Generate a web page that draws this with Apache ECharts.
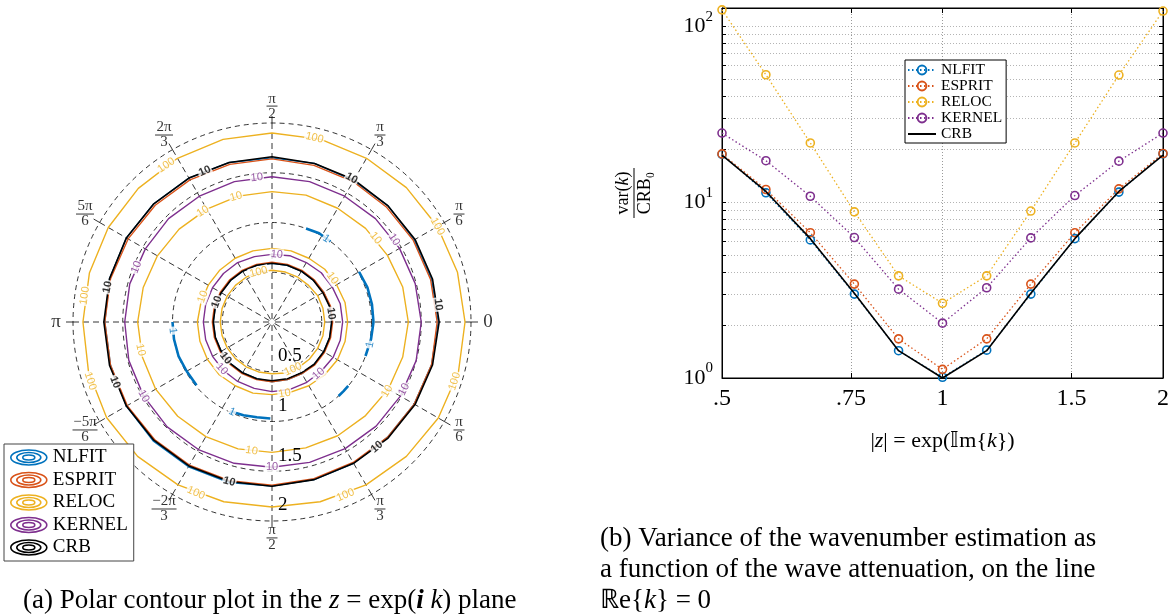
<!DOCTYPE html>
<html>
<head>
<meta charset="utf-8">
<script src="https://cdn.jsdelivr.net/npm/echarts@6/dist/echarts.min.js"></script>
<style>
html, body { margin: 0; padding: 0; background: #fff; }
#main { width: 1174px; height: 616px; }
</style>
</head>
<body>
<div id="main"></div>
<script>
var oChart = echarts.init(document.getElementById('main'));

// ---------- 左图: 极坐标等高线 (每15度读一个半径) ----------
var contourAngles = [0, 15, 30, 45, 60, 75, 90, 105, 120, 135, 150, 165, 180, 195, 210, 225, 240, 255, 270, 285, 300, 315, 330, 345];
var nlfitIn10   = [0.60, 0.60, 0.60, 0.59, 0.59, 0.59, 0.59, 0.59, 0.59, 0.59, 0.59, 0.59, 0.59, 0.59, 0.59, 0.59, 0.59, 0.59, 0.60, 0.60, 0.60, 0.60, 0.60, 0.60];
var nlfitOut10  = [1.67, 1.66, 1.65, 1.65, 1.64, 1.65, 1.65, 1.66, 1.67, 1.68, 1.69, 1.69, 1.68, 1.68, 1.69, 1.69, 1.68, 1.67, 1.65, 1.64, 1.64, 1.64, 1.65, 1.66];
var espritIn10  = [0.61, 0.61, 0.60, 0.60, 0.60, 0.60, 0.60, 0.60, 0.60, 0.60, 0.60, 0.60, 0.60, 0.60, 0.60, 0.60, 0.60, 0.60, 0.60, 0.60, 0.60, 0.61, 0.61, 0.61];
var espritOut10 = [1.66, 1.65, 1.64, 1.63, 1.63, 1.63, 1.64, 1.64, 1.65, 1.66, 1.67, 1.68, 1.68, 1.68, 1.68, 1.67, 1.66, 1.65, 1.64, 1.63, 1.63, 1.64, 1.65, 1.66];
var relocIn100  = [0.53, 0.53, 0.53, 0.52, 0.52, 0.52, 0.52, 0.52, 0.52, 0.52, 0.52, 0.52, 0.52, 0.52, 0.52, 0.52, 0.52, 0.52, 0.52, 0.53, 0.53, 0.53, 0.53, 0.53];
var relocIn10   = [0.76, 0.76, 0.75, 0.75, 0.74, 0.74, 0.74, 0.74, 0.74, 0.74, 0.74, 0.74, 0.75, 0.75, 0.75, 0.75, 0.74, 0.74, 0.73, 0.73, 0.74, 0.75, 0.76, 0.76];
var relocOut10  = [1.37, 1.36, 1.34, 1.33, 1.32, 1.32, 1.31, 1.31, 1.31, 1.32, 1.33, 1.34, 1.35, 1.35, 1.35, 1.34, 1.33, 1.32, 1.31, 1.31, 1.32, 1.33, 1.35, 1.36];
var relocOut100 = [1.94, 1.93, 1.92, 1.91, 1.90, 1.90, 1.90, 1.90, 1.90, 1.90, 1.90, 1.90, 1.90, 1.91, 1.92, 1.91, 1.89, 1.87, 1.86, 1.87, 1.89, 1.91, 1.93, 1.94];
var kernelIn10  = [0.71, 0.71, 0.70, 0.70, 0.69, 0.69, 0.68, 0.68, 0.69, 0.69, 0.69, 0.69, 0.69, 0.69, 0.69, 0.69, 0.69, 0.69, 0.70, 0.70, 0.70, 0.70, 0.71, 0.71];
var kernelOut10 = [1.50, 1.49, 1.48, 1.47, 1.46, 1.46, 1.46, 1.46, 1.46, 1.47, 1.47, 1.48, 1.48, 1.49, 1.49, 1.49, 1.48, 1.47, 1.46, 1.46, 1.47, 1.48, 1.49, 1.50];
var crbIn10     = [0.60, 0.60, 0.59, 0.59, 0.59, 0.59, 0.59, 0.59, 0.59, 0.59, 0.59, 0.59, 0.59, 0.59, 0.59, 0.59, 0.59, 0.59, 0.59, 0.59, 0.59, 0.60, 0.60, 0.60];
var crbOut10    = [1.68, 1.67, 1.66, 1.65, 1.65, 1.65, 1.66, 1.66, 1.67, 1.68, 1.69, 1.69, 1.69, 1.69, 1.69, 1.68, 1.67, 1.66, 1.65, 1.64, 1.64, 1.65, 1.66, 1.67];
// NLFIT 的 1 等值线 (几段弧)
var nlfitArcAngles = [[54, 62, 70], [30, 20, 10, 0, 350, 340], [320, 316, 312], [245, 253, 261, 269], [180, 190, 200, 210, 220]];
var nlfitArcRadii  = [[1.00, 1.01, 1.00], [1.01, 1.02, 1.02, 1.02, 1.01, 1.00], [1.00, 1.00, 1.00], [0.99, 0.98, 0.97, 0.97], [1.00, 1.00, 1.00, 0.99, 0.99]];

// 等高线标注
var relocLabelAngles = [124, 172, 198, 246, 293, 342, 30, 77, 105, 294, 106, 122, 39, 192, 329, 261, 160, 36, 280];
var relocLabelRadii  = [1.90, 1.90, 1.92, 1.88, 1.89, 1.93, 1.92, 1.90, 0.52, 0.52, 1.31, 1.31, 1.34, 1.35, 1.35, 1.31, 0.74, 0.75, 0.73];
var relocLabelTexts  = ['100', '100', '100', '100', '100', '100', '100', '100', '100', '100', '10', '10', '10', '10', '10', '10', '10', '10', '10'];
var kernelLabelAngles = [96, 34, 333, 270, 210, 158, 86, 223, 312];
var kernelLabelRadii  = [1.46, 1.48, 1.49, 1.46, 1.49, 1.47, 0.68, 0.69, 0.70];
var crbLabelAngles = [114, 61, 6, 310, 255, 201, 168, 160, 8, 218];
var crbLabelRadii  = [1.66, 1.65, 1.68, 1.64, 1.66, 1.69, 1.69, 0.59, 0.60, 0.59];
var nlfitLabelAngles = [57, 347, 185, 246];
var nlfitLabelRadii  = [1.00, 1.01, 1.00, 0.99];

// 极坐标刻度
var angleTicks = [0, 30, 60, 90, 120, 150, 180, 210, 240, 270, 300, 330];
var angleTickLabels = ['0', 'π/6', 'π/3', 'π/2', '2π/3', '5π/6', 'π', '−5π/6', '−2π/3', 'π/2', 'π/3', 'π/6'];
var radiusTicks = [0.5, 1, 1.5, 2];
var radiusTickLabels = ['0.5', '1', '1.5', '2'];

// ---------- 右图: 方差 / CRB0 ----------
var absZ      = [0.5, 0.574, 0.66, 0.758, 0.871, 1, 1.149, 1.32, 1.516, 1.741, 2];
var nlfitVar  = [18.7, 11.3, 6.1, 3.0, 1.43, 1.01, 1.44, 3.0, 6.2, 11.4, 18.8];
var espritVar = [18.8, 11.8, 6.7, 3.42, 1.67, 1.12, 1.67, 3.42, 6.7, 11.9, 18.9];
var relocVar  = [124, 53, 21.7, 8.8, 3.81, 2.66, 3.81, 8.9, 21.7, 52.8, 122];
var kernelVar = [24.7, 17.2, 10.8, 6.29, 3.2, 2.05, 3.26, 6.26, 10.9, 17.1, 24.7];
var crbVar    = [18.5, 11.5, 6.2, 3.03, 1.43, 1.0, 1.43, 3.03, 6.2, 11.5, 18.5];
var xTickValues = [0.5, 0.75, 1, 1.5, 2];
var xTickLabels = ['.5', '.75', '1', '1.5', '2'];
var yTickValues = [1, 10, 100];
var yTickExp = ['0', '1', '2'];
var yMinorTicks = [1, 2, 3, 4, 5, 6, 7, 8, 9, 10, 20, 30, 40, 50, 60, 70, 80, 90, 100];

var methodNames = ['NLFIT', 'ESPRIT', 'RELOC', 'KERNEL', 'CRB'];
var methodColors = { NLFIT: '#0072BD', ESPRIT: '#D95319', RELOC: '#EDB120', KERNEL: '#7E2F8E', CRB: '#000000' };
var serif = 'Liberation Serif';

function pairs(xs, ys) {
    var out = [];
    for (var i = 0; i < xs.length; i++) out.push([xs[i], ys[i]]);
    return out;
}

function dotLine(name, vals) {
    var c = methodColors[name];
    return {
        name: name, type: 'line', xAxisIndex: 0, yAxisIndex: 0,
        data: pairs(absZ, vals),
        symbol: 'circle', symbolSize: 8,
        lineStyle: { color: c, width: 1.3, type: [1.5, 2.5] },
        itemStyle: { color: 'rgba(255,255,255,0)', borderColor: c, borderWidth: 1.6 },
        z: 3
    };
}

function ring(name, radii, w) {
    var pts = [];
    for (var i = 0; i < contourAngles.length; i++) pts.push([radii[i], contourAngles[i]]);
    pts.push([radii[0], 360]);
    return {
        name: name, type: 'line', coordinateSystem: 'polar', polarIndex: 0,
        data: pts, symbol: 'none', silent: true,
        lineStyle: { color: methodColors[name], width: w || 1.4 }, z: 2
    };
}

function contourLabels(angles, radii, texts, color, weight) {
    var d = [];
    for (var i = 0; i < angles.length; i++) {
        var rot = angles[i] - 90;
        if (rot < -90) rot += 180;
        if (rot > 90) rot -= 180;
        d.push({ value: [radii[i], angles[i]], label: { formatter: texts[i], rotate: rot } });
    }
    return {
        type: 'scatter', coordinateSystem: 'polar', polarIndex: 0, silent: true, clip: false,
        symbol: 'circle', symbolSize: 1, itemStyle: { color: 'rgba(0,0,0,0)' },
        label: {
            show: true, position: 'inside', color: color, fontFamily: 'Liberation Sans',
            fontSize: 11, fontWeight: weight || 'normal', backgroundColor: '#fff', padding: [0, 1], lineHeight: 11
        },
        data: d, z: 4
    };
}

function fill(arr, v) {
    var o = [];
    for (var i = 0; i < arr.length; i++) o.push(v);
    return o;
}

// 角度刻度 "π/6" -> 分式
function fracText(s) {
    if (s.indexOf('/') < 0) return '{one|' + s + '}';
    var p = s.split('/');
    return '{num|' + p[0] + '}\n{bar' + Math.min(3, p[0].length) + '| }\n{num|' + p[1] + '}';
}

var series = [];
// 右图先放: 右侧图例取第一个同名系列的样式
series.push(dotLine('NLFIT', nlfitVar));
series.push(dotLine('ESPRIT', espritVar));
series.push(dotLine('RELOC', relocVar));
series.push(dotLine('KERNEL', kernelVar));
series.push({
    name: 'CRB', type: 'line', xAxisIndex: 0, yAxisIndex: 0,
    data: pairs(absZ, crbVar), symbol: 'none',
    itemStyle: { color: 'rgba(0,0,0,0)' },
    lineStyle: { color: '#000', width: 1.6 }, z: 4
});

// 左图等高线
series.push(ring('NLFIT', nlfitIn10));
series.push(ring('NLFIT', nlfitOut10));
for (var a = 0; a < nlfitArcAngles.length; a++) {
    var arc = [];
    for (var j = 0; j < nlfitArcAngles[a].length; j++) arc.push([nlfitArcRadii[a][j], nlfitArcAngles[a][j]]);
    series.push({
        name: 'NLFIT', type: 'line', coordinateSystem: 'polar', polarIndex: 0, data: arc,
        symbol: 'none', silent: true, lineStyle: { color: methodColors.NLFIT, width: 2.6 }, z: 2
    });
}
series.push(ring('ESPRIT', espritIn10));
series.push(ring('ESPRIT', espritOut10));
series.push(ring('RELOC', relocIn100));
series.push(ring('RELOC', relocIn10));
series.push(ring('RELOC', relocOut10));
series.push(ring('RELOC', relocOut100));
series.push(ring('KERNEL', kernelIn10));
series.push(ring('KERNEL', kernelOut10));
series.push(ring('CRB', crbIn10, 1.6));
series.push(ring('CRB', crbOut10, 1.6));

series.push(contourLabels(relocLabelAngles, relocLabelRadii, relocLabelTexts, methodColors.RELOC));
series.push(contourLabels(kernelLabelAngles, kernelLabelRadii, fill(kernelLabelAngles, '10'), methodColors.KERNEL));
series.push(contourLabels(crbLabelAngles, crbLabelRadii, fill(crbLabelAngles, '10'), '#000', 'bold'));
series.push(contourLabels(nlfitLabelAngles, nlfitLabelRadii, fill(nlfitLabelAngles, '1'), methodColors.NLFIT));

// 角度刻度文字
var angleLabelData = [];
for (var k = 0; k < angleTicks.length; k++) {
    angleLabelData.push({ value: [2.17, angleTicks[k]], label: { formatter: fracText(angleTickLabels[k]) } });
}
series.push({
    type: 'scatter', coordinateSystem: 'polar', polarIndex: 0, silent: true, clip: false,
    symbol: 'circle', symbolSize: 1, itemStyle: { color: 'rgba(0,0,0,0)' },
    label: {
        show: true, position: 'inside', color: '#000',
        rich: {
            num: { fontFamily: serif, fontSize: 15, lineHeight: 12, color: '#000', align: 'center' },
            bar1: { width: 11, height: 1, lineHeight: 3, fontSize: 1, backgroundColor: '#000' },
            bar2: { width: 18, height: 1, lineHeight: 3, fontSize: 1, backgroundColor: '#000' },
            bar3: { width: 25, height: 1, lineHeight: 3, fontSize: 1, backgroundColor: '#000' },
            one: { fontFamily: serif, fontSize: 19, color: '#000' }
        }
    },
    data: angleLabelData, z: 5
});

var ringIcon = 'path://M1,8a18,7.5 0 1,0 36,0a18,7.5 0 1,0 -36,0M7,8a12,5 0 1,0 24,0a12,5 0 1,0 -24,0M13,8a6,2.5 0 1,0 12,0a6,2.5 0 1,0 -12,0';
var leftLegendData = [];
for (var m = 0; m < methodNames.length; m++) {
    leftLegendData.push({
        name: methodNames[m], icon: ringIcon,
        itemStyle: { color: 'rgba(0,0,0,0)', borderColor: methodColors[methodNames[m]], borderWidth: 1.6 }
    });
}

var capFont = 27;
var option = {
    animation: false,
    backgroundColor: '#fff',
    textStyle: { fontFamily: serif },
    polar: [
        { center: [272, 322], radius: 199 },
        { center: [272, 322], radius: 199 }
    ],
    angleAxis: [
        {
            polarIndex: 0, type: 'value', min: 0, max: 360, interval: 30, startAngle: 0, clockwise: false,
            axisLine: { show: false },
            axisTick: { show: true, length: 7, lineStyle: { color: '#000', width: 0.8 } },
            axisLabel: { show: false },
            splitLine: { show: true, lineStyle: { color: '#000', width: 0.8, type: [6, 4] } }
        },
        { polarIndex: 1, type: 'value', min: 0, max: 360, startAngle: 270, clockwise: false, show: false }
    ],
    radiusAxis: [
        {
            polarIndex: 0, type: 'value', min: 0, max: 2, interval: 0.5,
            axisLine: { show: false }, axisTick: { show: false }, axisLabel: { show: false },
            splitLine: { show: true, lineStyle: { color: '#000', width: 0.8, type: [5, 4] } }
        },
        {
            polarIndex: 1, type: 'value', min: 0, max: 2, interval: 0.5,
            axisLine: { show: false }, axisTick: { show: false }, splitLine: { show: false },
            axisLabel: {
                margin: 6, color: '#000', fontFamily: serif, fontSize: 19, lineHeight: 31,
                verticalAlign: 'bottom', align: 'left',
                formatter: function (v) {
                    for (var i = 0; i < radiusTicks.length; i++) if (Math.abs(radiusTicks[i] - v) < 1e-6) return radiusTickLabels[i];
                    return '';
                }
            },
            z: 6
        }
    ],
    grid: { left: 722, top: 8, width: 441, height: 370, show: true, borderColor: '#000', borderWidth: 1, backgroundColor: 'rgba(0,0,0,0)' },
    xAxis: [
        {
            type: 'log', logBase: 2, min: 0.5, max: 2, gridIndex: 0, position: 'bottom',
            axisLine: { lineStyle: { color: '#000' } },
            axisTick: { inside: true, length: 5, customValues: [0.75, 1, 1.5], lineStyle: { color: '#000' } },
            axisLabel: {
                customValues: xTickValues, color: '#000', fontFamily: serif, fontSize: 24, margin: 9,
                formatter: function (v) {
                    for (var i = 0; i < xTickValues.length; i++) if (Math.abs(xTickValues[i] - v) < 1e-6) return xTickLabels[i];
                    return '';
                }
            },
            splitLine: { show: true, lineStyle: { color: '#9a9a9a', width: 1, type: [1, 2] } },
            name: '|{i|z}| = exp(𝕀m{{i|k}})', nameLocation: 'middle', nameGap: 52,
            nameTextStyle: { color: '#000', fontFamily: serif, fontSize: 22, rich: { i: { fontFamily: serif, fontStyle: 'italic', fontSize: 22, color: '#000' } } }
        },
        {
            type: 'log', logBase: 2, min: 0.5, max: 2, gridIndex: 0, position: 'top',
            axisLine: { lineStyle: { color: '#000' } },
            axisTick: { inside: true, length: 5, customValues: [0.75, 1, 1.5], lineStyle: { color: '#000' } },
            axisLabel: { show: false }, splitLine: { show: false }
        }
    ],
    yAxis: [
        {
            type: 'log', logBase: 10, min: 1, max: 127, gridIndex: 0, position: 'left',
            axisLine: { lineStyle: { color: '#000' } },
            axisTick: { inside: true, length: 4, customValues: yMinorTicks, lineStyle: { color: '#000' } },
            axisLabel: {
                customValues: yTickValues, color: '#000', margin: 9,
                formatter: function (v) {
                    for (var i = 0; i < yTickValues.length; i++) if (Math.abs(yTickValues[i] - v) < 1e-6) return '{base|10}{sup|' + yTickExp[i] + '}';
                    return '';
                },
                rich: {
                    base: { fontFamily: serif, fontSize: 22, lineHeight: 34, color: '#000' },
                    sup: { fontFamily: serif, fontSize: 15, lineHeight: 15, verticalAlign: 'top', color: '#000' }
                }
            },
            splitLine: { show: true, lineStyle: { color: '#b4b4b4', width: 1, type: [1, 2] } },
            name: '{num|var(}{numi|k}{num|)}\n{ybar| }\n{num|CRB₀}', nameLocation: 'middle', nameRotate: 90, nameGap: 68,
            nameTextStyle: {
                color: '#000',
                rich: {
                    num: { fontFamily: serif, fontSize: 18, lineHeight: 18, color: '#000' },
                    numi: { fontFamily: serif, fontStyle: 'italic', fontSize: 18, lineHeight: 18, color: '#000' },
                    ybar: { width: 50, height: 1, lineHeight: 4, fontSize: 1, backgroundColor: '#000' }
                }
            }
        },
        {
            type: 'log', logBase: 10, min: 1, max: 127, gridIndex: 0, position: 'right',
            axisLine: { lineStyle: { color: '#000' } },
            axisTick: { inside: true, length: 4, customValues: yMinorTicks, lineStyle: { color: '#000' } },
            axisLabel: { show: false }, splitLine: { show: false }
        }
    ],
    legend: [
        {
            data: leftLegendData, orient: 'vertical', left: 4, top: 444, itemWidth: 38, itemHeight: 15, itemGap: 3.5,
            selectedMode: false, textStyle: { fontFamily: serif, fontSize: 19, color: '#000' },
            borderColor: '#444', borderWidth: 1, backgroundColor: '#fff', padding: [4, 6, 4, 6], z: 10
        },
        {
            data: methodNames, orient: 'vertical', left: 905, top: 60, itemWidth: 28, itemHeight: 11, itemGap: 0,
            selectedMode: false, textStyle: { fontFamily: serif, fontSize: 15.5, color: '#000' },
            borderColor: '#000', borderWidth: 1, backgroundColor: '#fff', padding: [2, 4, 1, 2], z: 10
        }
    ],
    graphic: [
        {
            type: 'text', x: 23, y: 601,
            style: {
                text: '(a) Polar contour plot in the {i|z} = exp({bi|i} {i|k}) plane',
                fontFamily: serif, fontSize: capFont, fill: '#000', verticalAlign: 'middle',
                rich: {
                    i: { fontFamily: serif, fontStyle: 'italic', fontSize: capFont, fill: '#000' },
                    bi: { fontFamily: serif, fontStyle: 'italic', fontWeight: 'bold', fontSize: capFont, fill: '#000' }
                }
            }
        },
        {
            type: 'text', x: 600, y: 539,
            style: { text: '(b) Variance of the wavenumber estimation as', fontFamily: serif, fontSize: capFont, fill: '#000', verticalAlign: 'middle' }
        },
        {
            type: 'text', x: 600, y: 570,
            style: { text: 'a function of the wave attenuation, on the line', fontFamily: serif, fontSize: capFont, fill: '#000', verticalAlign: 'middle' }
        },
        {
            type: 'text', x: 600, y: 601,
            style: {
                text: 'ℝe{{i|k}} = 0', fontFamily: serif, fontSize: capFont, fill: '#000', verticalAlign: 'middle',
                rich: { i: { fontFamily: serif, fontStyle: 'italic', fontSize: capFont, fill: '#000' } }
            }
        }
    ],
    series: series
};

oChart.setOption(option);
</script>
</body>
</html>
